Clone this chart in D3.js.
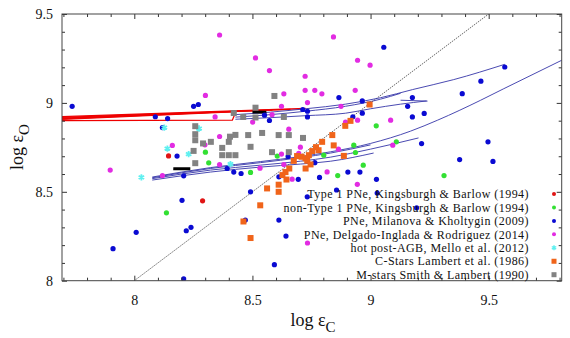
<!DOCTYPE html>
<html>
<head>
<meta charset="utf-8">
<script src="https://d3js.org/d3.v7.min.js"></script>
<style>
  body { margin: 0; background: #fff; }
  svg { display: block; }
</style>
</head>
<body>
<div id="chart"></div>
<script>
// ---- data: [log eps C, log eps O] ----
const type1PNe = [[8.145, 8.702], [8.289, 8.449]];

const nonType1PNe = [
  [8.136, 8.382], [8.301, 8.723], [8.315, 8.663], [8.492, 8.609], [8.605, 8.701],
  [8.802, 8.706], [8.861, 8.591], [8.929, 8.762], [8.936, 8.721], [8.969, 8.650],
  [9.024, 8.871], [9.109, 8.781], [9.311, 8.591]
];

const milanovaPNe = [
  [7.737, 8.981], [8.089, 8.922], [8.141, 8.912], [8.119, 8.861], [8.251, 8.981],
  [8.271, 8.991], [8.181, 8.701], [8.209, 8.590], [8.551, 8.931], [8.572, 8.901],
  [8.713, 8.963], [8.733, 8.953], [8.733, 8.921], [8.866, 9.030], [8.965, 9.011],
  [8.965, 8.942], [8.925, 8.922], [9.056, 9.313], [9.177, 9.030], [9.157, 8.981],
  [9.177, 8.921], [9.227, 8.941], [9.388, 9.052], [9.467, 9.122], [9.568, 9.202],
  [9.216, 8.771], [9.497, 8.781], [9.377, 8.681], [9.518, 8.671], [9.025, 8.570],
  [9.028, 8.493], [9.195, 8.410], [8.202, 8.452], [8.008, 8.272], [7.910, 8.180],
  [8.220, 8.281], [8.240, 8.300], [8.209, 8.010], [8.393, 8.631], [8.421, 8.611],
  [8.452, 8.603], [8.492, 8.500], [8.470, 8.341], [8.612, 8.341], [8.642, 8.251],
  [8.593, 8.090], [8.612, 8.584], [8.694, 8.570], [8.732, 8.472], [8.764, 8.664],
  [8.784, 8.581], [8.856, 8.510], [8.904, 8.611], [8.955, 8.611], [8.651, 8.699]
];

const delgadoPNe = [
  [8.361, 9.382], [8.843, 9.371], [8.513, 9.253], [8.572, 9.182], [8.945, 9.240],
  [8.998, 9.212], [8.723, 9.150], [8.301, 9.042], [8.633, 9.051], [8.723, 9.071],
  [8.764, 9.071], [8.794, 9.051], [8.935, 9.071], [8.733, 9.002], [8.623, 8.981],
  [8.875, 8.981], [8.342, 8.921], [8.583, 8.934], [8.501, 8.892], [8.945, 8.903],
  [8.654, 8.852], [8.361, 8.811], [8.703, 8.751], [8.894, 8.892], [9.085, 8.903],
  [9.094, 8.762], [8.161, 8.761], [7.898, 8.622], [8.119, 8.591], [8.299, 8.764],
  [8.361, 8.653], [8.532, 8.633], [8.633, 8.653], [8.696, 8.716], [8.816, 8.612],
  [8.668, 8.571], [8.944, 8.542], [8.733, 8.212], [8.623, 8.712], [8.864, 8.740]
];

const postAGB = [
  [8.030, 8.581], [8.127, 8.861], [8.140, 8.743], [8.230, 8.712], [8.274, 8.856],
  [8.407, 8.656]
];

const cStars = [
  [8.492, 8.240], [8.462, 8.333], [8.533, 8.424], [8.562, 8.519], [8.611, 8.500],
  [8.611, 8.540], [8.627, 8.594], [8.644, 8.569], [8.640, 8.611], [8.656, 8.631],
  [8.675, 8.674], [8.689, 8.701], [8.708, 8.697], [8.725, 8.688], [8.732, 8.675],
  [8.746, 8.654], [8.725, 8.631], [8.739, 8.706], [8.753, 8.729], [8.769, 8.751],
  [8.795, 8.781], [8.844, 8.761], [8.838, 8.819], [8.887, 8.702], [8.893, 8.871],
  [8.915, 8.899], [8.996, 8.991], [8.780, 8.734]
];

const mStars = [
  [8.593, 9.039], [8.513, 8.973], [8.421, 8.943], [8.461, 8.921], [8.513, 8.918],
  [8.633, 8.921], [8.258, 8.869], [8.258, 8.824], [8.258, 8.790], [8.291, 8.772],
  [8.324, 8.781], [8.372, 8.747], [8.400, 8.781], [8.405, 8.810], [8.428, 8.820],
  [8.482, 8.819], [8.541, 8.831], [8.611, 8.819], [8.654, 8.819], [8.714, 8.803],
  [8.492, 8.753], [8.251, 8.730], [8.258, 8.661], [8.372, 8.706], [8.400, 8.706],
  [8.428, 8.706], [8.583, 8.723], [8.654, 8.723]
];

// model tracks
const redTracks = [
  [[7.69, 8.9225], [8.725, 8.9685]],
  [[7.69, 8.9185], [8.661, 8.9635]],
  [[7.69, 8.9146], [8.585, 8.960]],
  [[7.69, 8.9107], [8.500, 8.9562]],
  [[7.69, 8.9067], [8.415, 8.9494]],
  [[7.69, 8.9000], [8.415, 8.9028], [8.43, 8.950]]
];

const blueTracks = [
  [[8.428, 8.934], [8.576, 8.948], [8.725, 8.967], [8.894, 8.993], [9.042, 9.029], [9.178, 9.075], [9.352, 9.131], [9.568, 9.217]],
  [[8.428, 8.920], [8.576, 8.934], [8.725, 8.953], [8.894, 8.981], [9.042, 9.021], [9.127, 9.054]],
  [[8.428, 8.908], [8.576, 8.917], [8.725, 8.928], [8.894, 8.942], [9.000, 8.967], [9.127, 8.993], [9.237, 9.011]],
  [[9.127, 9.015], [9.241, 9.010]],
  [[8.076, 8.583], [8.322, 8.636], [8.534, 8.670], [8.703, 8.698], [8.831, 8.725], [9.000, 8.772], [9.169, 8.841], [9.284, 8.903], [9.466, 9.015], [9.564, 9.080], [9.814, 9.243]],
  [[8.076, 8.579], [8.322, 8.631], [8.534, 8.664], [8.703, 8.692], [8.831, 8.718], [9.000, 8.764]],
  [[8.076, 8.574], [8.322, 8.622], [8.534, 8.650], [8.703, 8.672], [8.831, 8.695], [9.000, 8.740], [9.203, 8.803]],
  [[8.076, 8.566], [8.322, 8.611], [8.534, 8.639], [8.703, 8.656], [8.831, 8.672], [9.013, 8.718]]
];

const blackTracks = [
  [[8.165, 8.630], [8.237, 8.629]],
  [[8.500, 8.949], [8.559, 8.948]]
];

const unityLine = [[8, 8], [9.5, 9.5]];

const xMajor = [8, 8.5, 9, 9.5];
const yMajor = [8, 8.5, 9, 9.5];
const xMinor = [7.7, 7.8, 7.9, 8.1, 8.2, 8.3, 8.4, 8.6, 8.7, 8.8, 8.9, 9.1, 9.2, 9.3, 9.4, 9.6, 9.7, 9.8];
const yMinor = [8.1, 8.2, 8.3, 8.4, 8.6, 8.7, 8.8, 8.9, 9.1, 9.2, 9.3, 9.4];

const legendLabels = [
  "Type 1 PNe, Kingsburgh & Barlow (1994)",
  "non-Type 1 PNe, Kingsburgh & Barlow (1994)",
  "PNe, Milanova & Kholtygin (2009)",
  "PNe, Delgado-Inglada & Rodriguez (2014)",
  "hot post-AGB, Mello et al. (2012)",
  "C-Stars Lambert et al. (1986)",
  "M-stars Smith & Lambert (1990)"
];

// ---- drawing ----
const width = 570, height = 338;
const serif = "'Liberation Serif', 'DejaVu Serif', serif";

const x = d3.scaleLinear().domain([7.694, 9.809]).range([62, 561.7]);
const y = d3.scaleLinear().domain([8, 9.5]).range([280.7, 14]);

const svg = d3.select("#chart")
  .append("svg")
  .attr("width", width)
  .attr("height", height)
  .style("font-family", serif);

svg.append("clipPath").attr("id", "plot-clip")
  .append("rect")
  .attr("x", x.range()[0]).attr("y", y.range()[1])
  .attr("width", x.range()[1] - x.range()[0])
  .attr("height", y.range()[0] - y.range()[1]);

const line = d3.line().x(d => x(d[0])).y(d => y(d[1]));

const plot = svg.append("g").attr("clip-path", "url(#plot-clip)");

// C/O = 1
plot.append("path")
  .attr("d", line(unityLine))
  .attr("fill", "none")
  .attr("stroke", "#444")
  .attr("stroke-width", 0.8)
  .attr("stroke-dasharray", "1.5,1");

plot.selectAll(".red-track")
  .data(redTracks)
  .join("path")
  .attr("class", "red-track")
  .attr("d", line)
  .attr("fill", "none")
  .attr("stroke", "#ee0000")
  .attr("stroke-width", 1.3);

plot.selectAll(".blue-track")
  .data(blueTracks)
  .join("path")
  .attr("class", "blue-track")
  .attr("d", d3.line().curve(d3.curveMonotoneX).x(d => x(d[0])).y(d => y(d[1])))
  .attr("fill", "none")
  .attr("stroke", "#3535a8")
  .attr("stroke-width", 0.9);

plot.selectAll(".black-track")
  .data(blackTracks)
  .join("path")
  .attr("class", "black-track")
  .attr("d", line)
  .attr("fill", "none")
  .attr("stroke", "#000")
  .attr("stroke-width", 3);

// scatter series, drawn in legend order
const dotSeries = [
  { data: type1PNe, color: "#e01515" },
  { data: nonType1PNe, color: "#33e033" },
  { data: milanovaPNe, color: "#0a0ad2" },
  { data: delgadoPNe, color: "#e22ce2" }
];

dotSeries.forEach(s => {
  plot.append("g")
    .selectAll("circle")
    .data(s.data)
    .join("circle")
    .attr("cx", d => x(d[0]))
    .attr("cy", d => y(d[1]))
    .attr("r", 2.6)
    .attr("fill", s.color);
});

const star = d3.symbol().type(d3.symbolAsterisk).size(28);
plot.append("g")
  .selectAll("path")
  .data(postAGB)
  .join("path")
  .attr("transform", d => `translate(${x(d[0])},${y(d[1])})`)
  .attr("d", star)
  .attr("fill", "none")
  .attr("stroke", "#5ff0f0")
  .attr("stroke-width", 1.8);

const squareSeries = [
  { data: cStars, color: "#f0641a" },
  { data: mStars, color: "#828282" }
];

squareSeries.forEach(s => {
  plot.append("g")
    .selectAll("rect")
    .data(s.data)
    .join("rect")
    .attr("x", d => x(d[0]) - 3)
    .attr("y", d => y(d[1]) - 3)
    .attr("width", 6)
    .attr("height", 6)
    .attr("fill", s.color);
});

// axes: inward ticks on all four sides
function styleAxis(g) {
  g.select(".domain").remove();
  g.attr("font-family", serif).attr("font-size", 14).attr("color", "#333");
  g.selectAll("text").attr("fill", "#111");
}

svg.append("g")
  .attr("transform", `translate(0,${y(8)})`)
  .call(d3.axisBottom(x).tickValues(xMajor).tickSize(-5).tickPadding(14).tickFormat(d => d))
  .call(styleAxis);
svg.append("g")
  .attr("transform", `translate(0,${y(8)})`)
  .call(d3.axisBottom(x).tickValues(xMinor).tickSize(-3).tickFormat(""))
  .call(styleAxis);
svg.append("g")
  .attr("transform", `translate(0,${y(9.5)})`)
  .call(d3.axisTop(x).tickValues(xMajor).tickSize(-5).tickFormat(""))
  .call(styleAxis);
svg.append("g")
  .attr("transform", `translate(0,${y(9.5)})`)
  .call(d3.axisTop(x).tickValues(xMinor).tickSize(-3).tickFormat(""))
  .call(styleAxis);

svg.append("g")
  .attr("transform", `translate(${x.range()[0]},0)`)
  .call(d3.axisLeft(y).tickValues(yMajor).tickSize(-5).tickPadding(9).tickFormat(d => d))
  .call(styleAxis);
svg.append("g")
  .attr("transform", `translate(${x.range()[0]},0)`)
  .call(d3.axisLeft(y).tickValues(yMinor).tickSize(-3).tickFormat(""))
  .call(styleAxis);
svg.append("g")
  .attr("transform", `translate(${x.range()[1]},0)`)
  .call(d3.axisRight(y).tickValues(yMajor).tickSize(-5).tickFormat(""))
  .call(styleAxis);
svg.append("g")
  .attr("transform", `translate(${x.range()[1]},0)`)
  .call(d3.axisRight(y).tickValues(yMinor).tickSize(-3).tickFormat(""))
  .call(styleAxis);

// frame
svg.append("rect")
  .attr("x", x.range()[0]).attr("y", y.range()[1])
  .attr("width", x.range()[1] - x.range()[0])
  .attr("height", y.range()[0] - y.range()[1])
  .attr("fill", "none")
  .attr("stroke", "#444")
  .attr("stroke-width", 1);

// axis titles
const xTitle = svg.append("text")
  .attr("x", 313).attr("y", 326)
  .attr("text-anchor", "middle")
  .attr("font-size", 18)
  .attr("fill", "#111");
xTitle.append("tspan").text("log ε");
xTitle.append("tspan").attr("dy", 6).attr("font-size", 15).text("C");

const yTitle = svg.append("text")
  .attr("transform", "translate(23,147) rotate(-90)")
  .attr("text-anchor", "middle")
  .attr("font-size", 18)
  .attr("fill", "#111");
yTitle.append("tspan").text("log ε");
yTitle.append("tspan").attr("dy", 6).attr("font-size", 15).text("O");

// legend
const legendColors = ["#e01515", "#33e033", "#0a0ad2", "#e22ce2", "#5ff0f0", "#f0641a", "#828282"];
const legendShapes = ["dot", "dot", "dot", "dot", "star", "square", "square"];

const legend = svg.append("g").attr("font-size", 12).attr("letter-spacing", 0.45);
legendLabels.forEach((label, i) => {
  const cy = 194 + i * 13.45;
  legend.append("text")
    .attr("x", 529).attr("y", cy)
    .attr("dy", "0.35em")
    .attr("text-anchor", "end")
    .attr("fill", "#111")
    .text(label);
  if (legendShapes[i] === "dot") {
    legend.append("circle").attr("cx", 554).attr("cy", cy).attr("r", 2).attr("fill", legendColors[i]);
  } else if (legendShapes[i] === "square") {
    legend.append("rect").attr("x", 551.5).attr("y", cy - 2.5).attr("width", 5).attr("height", 5).attr("fill", legendColors[i]);
  } else {
    legend.append("path")
      .attr("transform", `translate(554,${cy})`)
      .attr("d", d3.symbol().type(d3.symbolAsterisk).size(18)())
      .attr("fill", "none").attr("stroke", legendColors[i]).attr("stroke-width", 1.4);
  }
});
</script>
</body>
</html>
